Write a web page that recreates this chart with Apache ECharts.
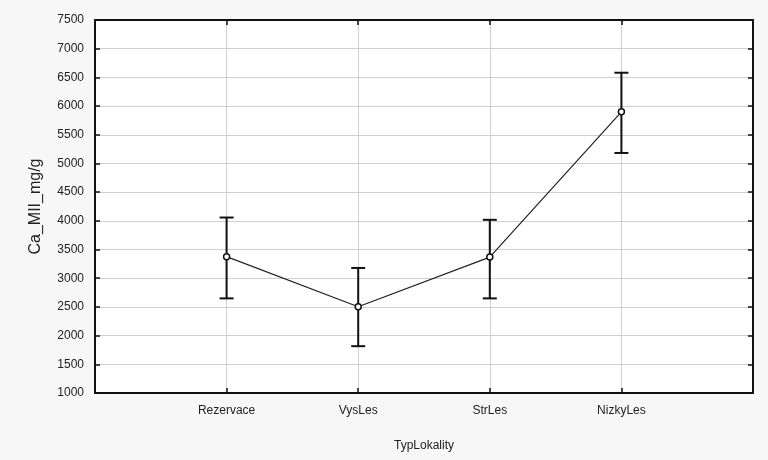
<!DOCTYPE html>
<html><head><meta charset="utf-8">
<script src="https://cdn.jsdelivr.net/npm/echarts@6/dist/echarts.min.js"></script>
<style>html,body{margin:0;padding:0;background:#f7f7f7;}#c{width:768px;height:460px;}</style>
</head><body><div id="c"></div>
<script>
var categories = ['', 'Rezervace', 'VysLes', 'StrLes', 'NizkyLes', ''];
var means = [3376, 2503, 3368, 5899];
var lower = [2649, 1816, 2649, 5183];
var upper = [4058, 3179, 4018, 6581];
var yTicks = {min: 1000, max: 7500, interval: 500};

var chart = echarts.init(document.getElementById('c'));
var meanData = means.map(function(v, i){ return [i + 1, v]; });
var errData = means.map(function(v, i){ return [i + 1, lower[i], upper[i]]; });
var font = 'Liberation Sans, Arial, sans-serif';
chart.setOption({
  backgroundColor: '#f7f7f7',
  animation: false,
  grid: {left: 95, right: 15, top: 20, bottom: 67, show: true, backgroundColor: '#ffffff', borderWidth: 0},
  xAxis: [{
    type: 'category', data: categories, boundaryGap: false,
    name: 'TypLokality', nameLocation: 'middle', nameGap: 47,
    nameTextStyle: {color: '#222', fontSize: 12, fontFamily: font},
    axisLine: {lineStyle: {color: '#111', width: 2}},
    axisTick: {inside: true, length: 5, lineStyle: {color: '#111', width: 1.5}, interval: function(i){ return i > 0 && i < 5; }},
    axisLabel: {color: '#222', fontSize: 12, fontFamily: font, margin: 12, interval: 0},
    splitLine: {show: true, interval: function(i){ return i > 0 && i < 5; }, lineStyle: {color: '#cfcfcf', width: 1}}
  }, {
    type: 'category', data: categories, boundaryGap: false, position: 'top',
    axisLine: {onZero: false, lineStyle: {color: '#111', width: 2}},
    axisTick: {inside: true, length: 5, lineStyle: {color: '#111', width: 1.5}, interval: function(i){ return i > 0 && i < 5; }},
    axisLabel: {show: false}, splitLine: {show: false}
  }],
  yAxis: [{
    type: 'value', min: yTicks.min, max: yTicks.max, interval: yTicks.interval,
    name: 'Ca_MII_mg/g', nameLocation: 'middle', nameGap: 51, nameRotate: 90,
    nameTextStyle: {color: '#222', fontSize: 16, fontFamily: font},
    axisLine: {show: true, onZero: false, lineStyle: {color: '#111', width: 2}},
    axisTick: {show: true, inside: true, length: 5, lineStyle: {color: '#111', width: 1.5}},
    axisLabel: {color: '#222', fontSize: 12, fontFamily: font, margin: 11, formatter: function(v){ return String(v); }},
    splitLine: {show: true, lineStyle: {color: '#cfcfcf', width: 1}}
  }, {
    type: 'value', min: yTicks.min, max: yTicks.max, interval: yTicks.interval, position: 'right',
    axisLine: {show: true, onZero: false, lineStyle: {color: '#111', width: 2}},
    axisTick: {show: true, inside: true, length: 5, lineStyle: {color: '#111', width: 1.5}},
    axisLabel: {show: false}, splitLine: {show: false}
  }],
  series: [{
    type: 'custom',
    data: errData,
    z: 3,
    renderItem: function(params, api){
      var x = api.value(0);
      var lo = api.coord([x, api.value(1)]);
      var hi = api.coord([x, api.value(2)]);
      var hw = 7;
      var st = {stroke: '#111', lineWidth: 2};
      return {type: 'group', children: [
        {type: 'line', shape: {x1: lo[0], y1: lo[1], x2: hi[0], y2: hi[1]}, style: st},
        {type: 'line', shape: {x1: lo[0]-hw, y1: lo[1], x2: lo[0]+hw, y2: lo[1]}, style: st},
        {type: 'line', shape: {x1: hi[0]-hw, y1: hi[1], x2: hi[0]+hw, y2: hi[1]}, style: st}
      ]};
    }
  }, {
    type: 'line',
    data: meanData,
    z: 4,
    symbol: 'circle', symbolSize: 6,
    itemStyle: {color: '#ffffff', borderColor: '#111', borderWidth: 1.5},
    lineStyle: {color: '#222', width: 1.2}
  }]
});
</script></body></html>
